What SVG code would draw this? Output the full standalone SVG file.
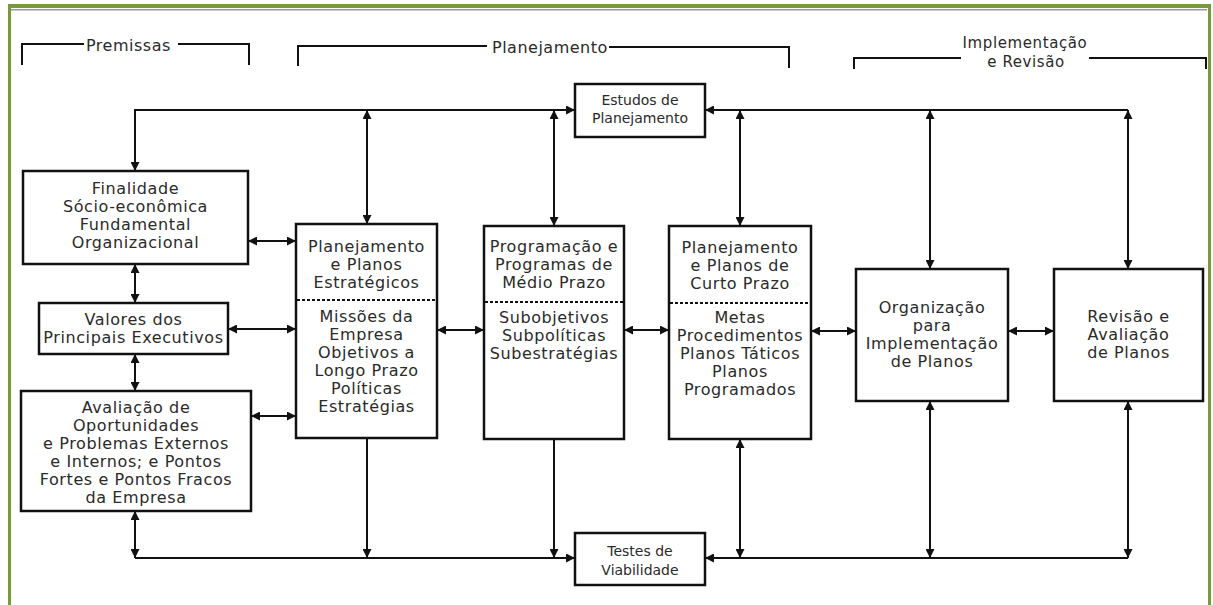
<svg xmlns="http://www.w3.org/2000/svg" width="1213" height="605" viewBox="0 0 1213 605">
<style>
.box{fill:#fff;stroke:#111;stroke-width:2.5}
.dot{stroke:#111;stroke-width:2;stroke-dasharray:3 2;fill:none}
.c{fill:none;stroke:#111;stroke-width:2}
.a1{marker-end:url(#ah)}
.a2{marker-start:url(#ah);marker-end:url(#ah)}
.br{fill:none;stroke:#111;stroke-width:2}
.t{font-family:"DejaVu Sans","Liberation Sans",sans-serif;font-size:16px;letter-spacing:0.6px;fill:#2a2a2a;text-anchor:middle}
.s{font-family:"DejaVu Sans","Liberation Sans",sans-serif;font-size:14px;fill:#2a2a2a;text-anchor:middle}
.h{font-family:"DejaVu Sans","Liberation Sans",sans-serif;font-size:16px;letter-spacing:0.5px;fill:#2a2a2a}
.h2{font-family:"DejaVu Sans","Liberation Sans",sans-serif;font-size:15px;letter-spacing:0.6px;fill:#2a2a2a;text-anchor:middle}
</style>
<defs>
<marker id="ah" markerUnits="userSpaceOnUse" markerWidth="9" markerHeight="9" refX="9" refY="4.5" orient="auto-start-reverse">
<path d="M0,0 L9,4.5 L0,9 z" fill="#111"/>
</marker>
</defs>
<rect width="1213" height="605" fill="#fff"/>
<g id="frame">
<rect x="8" y="4" width="1203" height="4" fill="#789a3c"/>
<rect x="11" y="9" width="1196" height="1.5" fill="#999"/>
<rect x="8" y="4" width="3" height="601" fill="#789a3c"/>
<rect x="1208" y="4" width="3" height="601" fill="#789a3c"/>
</g>
<g id="headers">
<path class="br" d="M22,65 V44 H84 M178,44 H249 V65"/>
<text class="h" x="86" y="51">Premissas</text>
<path class="br" d="M298,66 V46 H487 M609,47 H789 V68"/>
<text class="h" x="492" y="53">Planejamento</text>
<path class="br" d="M854,69 V58 H961 M1089,58 H1206 V69"/>
<text class="h2" x="1025" y="48">Implementação</text>
<text class="h2" x="1026" y="67">e Revisão</text>
</g>
<g id="connectors">
<path class="c" d="M135,171 V110 H575" marker-start="url(#ah)" marker-end="url(#ah)"/>
<path class="c a1" d="M1128,110 H705"/>
<path class="c a2" d="M367,110 V224"/>
<path class="c a2" d="M554,110 V226"/>
<path class="c a2" d="M740,110 V226"/>
<path class="c a2" d="M930,110 V269"/>
<path class="c a2" d="M1128,110 V269"/>
<path class="c a2" d="M248,241 H296"/>
<path class="c a2" d="M228,329 H296"/>
<path class="c a2" d="M251,416 H296"/>
<path class="c a2" d="M437,330 H484"/>
<path class="c a2" d="M624,330 H669"/>
<path class="c a2" d="M811,331 H856"/>
<path class="c a2" d="M1008,331 H1054"/>
<path class="c a2" d="M135,264 V303"/>
<path class="c a2" d="M135,354 V391"/>
<path class="c a2" d="M135,511 V558"/>
<path class="c a1" d="M135,558 H575"/>
<path class="c a1" d="M367,438 V558"/>
<path class="c a1" d="M554,439 V558"/>
<path class="c a2" d="M740,439 V558"/>
<path class="c a2" d="M930,401 V558"/>
<path class="c a2" d="M1128,401 V558"/>
<path class="c a1" d="M1128,558 H705"/>
</g>
<g id="estudos">
<rect class="box" x="575" y="84" width="130" height="53"/>
<text class="s" x="640" y="105">Estudos de</text>
<text class="s" x="640" y="123">Planejamento</text>
</g>
<g id="finalidade">
<rect class="box" x="23" y="171" width="225" height="93"/>
<text class="t" x="135.5" y="194">Finalidade</text>
<text class="t" x="135.5" y="212">Sócio-econômica</text>
<text class="t" x="135.5" y="230">Fundamental</text>
<text class="t" x="135.5" y="248">Organizacional</text>
</g>
<g id="valores">
<rect class="box" x="39" y="303" width="189" height="51"/>
<text class="t" x="133.5" y="325">Valores dos</text>
<text class="t" x="133.5" y="343">Principais Executivos</text>
</g>
<g id="avaliacao">
<rect class="box" x="21" y="391" width="230" height="120"/>
<text class="t" x="136" y="413">Avaliação de</text>
<text class="t" x="136" y="431">Oportunidades</text>
<text class="t" x="136" y="449">e Problemas Externos</text>
<text class="t" x="136" y="467">e Internos; e Pontos</text>
<text class="t" x="136" y="485">Fortes e Pontos Fracos</text>
<text class="t" x="136" y="503">da Empresa</text>
</g>
<g id="estrategico">
<rect class="box" x="296" y="224" width="141" height="214"/>
<line class="dot" x1="297" y1="300" x2="436" y2="300"/>
<text class="t" x="366.5" y="252">Planejamento</text>
<text class="t" x="366.5" y="270">e Planos</text>
<text class="t" x="366.5" y="288">Estratégicos</text>
<text class="t" x="366.5" y="322">Missões da</text>
<text class="t" x="366.5" y="340">Empresa</text>
<text class="t" x="366.5" y="358">Objetivos a</text>
<text class="t" x="366.5" y="376">Longo Prazo</text>
<text class="t" x="366.5" y="394">Políticas</text>
<text class="t" x="366.5" y="412">Estratégias</text>
</g>
<g id="medio">
<rect class="box" x="484" y="226" width="140" height="213"/>
<line class="dot" x1="485" y1="302" x2="623" y2="302"/>
<text class="t" x="554" y="252">Programação e</text>
<text class="t" x="554" y="270">Programas de</text>
<text class="t" x="554" y="288">Médio Prazo</text>
<text class="t" x="554" y="323">Subobjetivos</text>
<text class="t" x="554" y="341">Subpolíticas</text>
<text class="t" x="554" y="359">Subestratégias</text>
</g>
<g id="curto">
<rect class="box" x="669" y="226" width="142" height="213"/>
<line class="dot" x1="670" y1="303" x2="810" y2="303"/>
<text class="t" x="740" y="253">Planejamento</text>
<text class="t" x="740" y="271">e Planos de</text>
<text class="t" x="740" y="289">Curto Prazo</text>
<text class="t" x="740" y="323">Metas</text>
<text class="t" x="740" y="341">Procedimentos</text>
<text class="t" x="740" y="359">Planos Táticos</text>
<text class="t" x="740" y="377">Planos</text>
<text class="t" x="740" y="395">Programados</text>
</g>
<g id="organizacao">
<rect class="box" x="856" y="269" width="152" height="132"/>
<text class="t" x="932" y="313">Organização</text>
<text class="t" x="932" y="331">para</text>
<text class="t" x="932" y="349">Implementação</text>
<text class="t" x="932" y="367">de Planos</text>
</g>
<g id="revisao">
<rect class="box" x="1054" y="269" width="149" height="132"/>
<text class="t" x="1128.5" y="322">Revisão e</text>
<text class="t" x="1128.5" y="340">Avaliação</text>
<text class="t" x="1128.5" y="358">de Planos</text>
</g>
<g id="testes">
<rect class="box" x="575" y="533" width="130" height="52"/>
<text class="s" x="640" y="556">Testes de</text>
<text class="s" x="640" y="575">Viabilidade</text>
</g>
</svg>
